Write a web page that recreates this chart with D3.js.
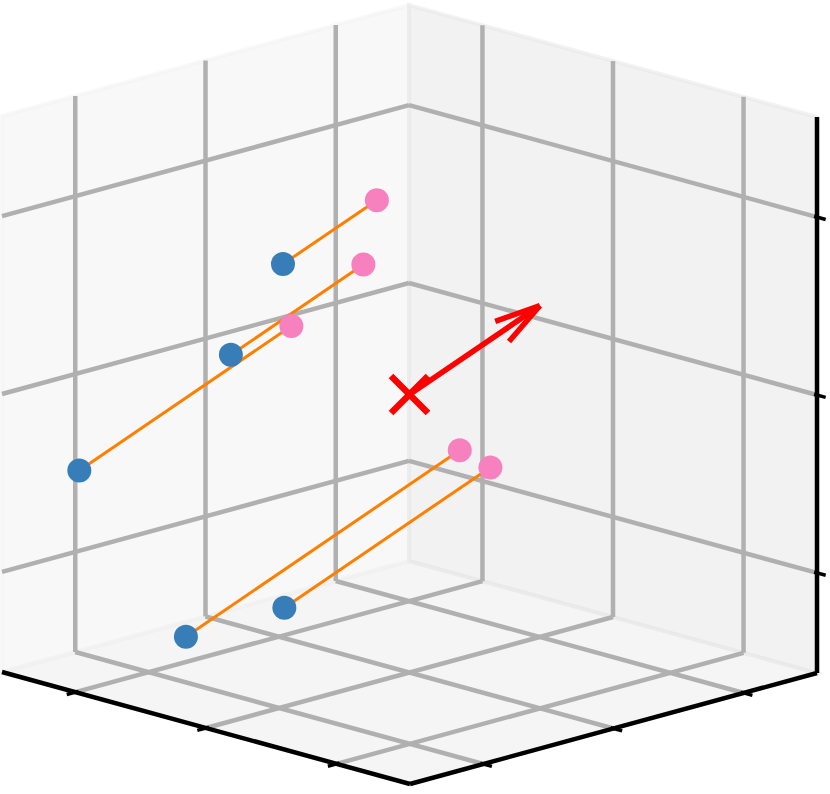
<!DOCTYPE html>
<html>
<head>
<meta charset="utf-8">
<script src="https://cdn.jsdelivr.net/npm/d3@7"></script>
<style>body{margin:0;background:#fff;}svg{display:block;}</style>
</head>
<body>
<svg id="chart" width="830" height="794"></svg>
<script>
// ---- data ----
const axisDomain = [-1.5625, 1.5625];
const xTicks = [-1, 0, 1];
const yTicks = [-1, 0, 1];
const zTicks = [-1, 0, 1];

// blue (start) points
const startX = [0.585, 0.585, 1.266, 1.057, 0.330];
const startY = [-0.385, -0.785, -1.266, -0.657, -0.630];
const startZ = [0.692, 0.262, -0.429, -1.443, -1.139];
// pink (end) points
const endX = [0.225, 0.077, 0.453, 0.007, -0.460];
const endY = [-0.025, -0.277, -0.453, 0.393, 0.160];
const endZ = [1.052, 0.770, 0.384, -0.393, -0.349];

// red cross (origin) and arrow vector
const crossPoint = [0, 0, 0];
const arrowVector = [-0.5, 0.5, 0.5];

// ---- projection (orthographic box) ----
const sx = d3.scaleLinear().domain(axisDomain).range([0, 1]);
const sy = d3.scaleLinear().domain(axisDomain).range([0, 1]);
const sz = d3.scaleLinear().domain(axisDomain).range([0, 1]);
const F = [410, 784], L = [2, 672], R = [817, 673], H = 556;
function projF(a, b, c) {
  return [F[0] + a * (L[0] - F[0]) + b * (R[0] - F[0]),
          F[1] + a * (L[1] - F[1]) + b * (R[1] - F[1]) - c * H];
}
function proj(x, y, z) { return projF(sx(x), sy(y), sz(z)); }

const svg = d3.select("#chart");
const line = d3.line();

// ---- panes ----
const panes = [
  {pts: [[0,0,0],[1,0,0],[1,1,0],[0,1,0]], col: "rgba(236,236,236,0.5)"},   // floor (z)
  {pts: [[1,0,0],[1,1,0],[1,1,1],[1,0,1]], col: "rgba(242,242,242,0.5)"},   // left (x)
  {pts: [[1,1,0],[0,1,0],[0,1,1],[1,1,1]], col: "rgba(230,230,230,0.5)"}    // right (y)
];
svg.append("g").selectAll("path").data(panes).join("path")
  .attr("d", d => line(d.pts.map(p => projF(...p))) + "Z")
  .attr("fill", d => d.col)
  .attr("stroke", d => d.col)
  .attr("stroke-width", 4)
  .attr("stroke-linejoin", "miter");

// ---- grid lines ----
const grid = [];
xTicks.forEach(t => {
  const a = sx(t);
  grid.push([projF(a,0,0), projF(a,1,0)]);  // floor
  grid.push([projF(a,1,0), projF(a,1,1)]);  // right pane vertical
});
yTicks.forEach(t => {
  const b = sy(t);
  grid.push([projF(0,b,0), projF(1,b,0)]);  // floor
  grid.push([projF(1,b,0), projF(1,b,1)]);  // left pane vertical
});
zTicks.forEach(t => {
  const c = sz(t);
  grid.push([projF(1,0,c), projF(1,1,c)]);  // left pane
  grid.push([projF(1,1,c), projF(0,1,c)]);  // right pane
});
svg.append("g").selectAll("path").data(grid).join("path")
  .attr("d", d => line(d))
  .attr("stroke", "#b0b0b0").attr("stroke-width", 4.5).attr("fill", "none");

// ---- axis lines ----
const axLines = [
  [projF(1,0,0), projF(0,0,0)],
  [projF(0,0,0), projF(0,1,0)],
  [projF(0,1,0), projF(0,1,1)]
];
svg.append("g").selectAll("path").data(axLines).join("path")
  .attr("d", d => line(d))
  .attr("stroke", "#000").attr("stroke-width", 4.5).attr("fill", "none")
  .attr("stroke-linejoin", "miter");

// ticks
function unit(p, q) { const dx = q[0]-p[0], dy = q[1]-p[1], l = Math.hypot(dx, dy); return [dx/l, dy/l]; }
const ticks = [];
xTicks.forEach(t => { const a = sx(t); const p = projF(a,0,0); const u = unit(projF(a,1,0), p); ticks.push([p, u]); });
yTicks.forEach(t => { const b = sy(t); const p = projF(0,b,0); const u = unit(projF(1,b,0), p); ticks.push([p, u]); });
zTicks.forEach(t => { const c = sz(t); const p = projF(0,1,c); const u = unit(projF(1,1,c), p); ticks.push([p, u]); });
svg.append("g").selectAll("path").data(ticks).join("path")
  .attr("d", ([p, u]) => line([[p[0] - 3*u[0], p[1] - 3*u[1]], [p[0] + 9*u[0], p[1] + 9*u[1]]]))
  .attr("stroke", "#000").attr("stroke-width", 3.5).attr("fill", "none");

// ---- data marks ----
const idx = d3.range(startX.length);
svg.append("g").selectAll("path").data(idx).join("path")
  .attr("d", i => line([proj(startX[i], startY[i], startZ[i]), proj(endX[i], endY[i], endZ[i])]))
  .attr("stroke", "#ff7f00").attr("stroke-width", 3).attr("fill", "none");

svg.append("g").selectAll("circle").data(idx).join("circle")
  .attr("cx", i => proj(startX[i], startY[i], startZ[i])[0])
  .attr("cy", i => proj(startX[i], startY[i], startZ[i])[1])
  .attr("r", 12).attr("fill", "#377eb8");

svg.append("g").selectAll("circle").data(idx).join("circle")
  .attr("cx", i => proj(endX[i], endY[i], endZ[i])[0])
  .attr("cy", i => proj(endX[i], endY[i], endZ[i])[1])
  .attr("r", 12).attr("fill", "#f781bf");

// cross marker
const cp = proj(...crossPoint);
const cs = 18.5;
svg.append("path")
  .attr("d", `M${cp[0]-cs},${cp[1]-cs}L${cp[0]+cs},${cp[1]+cs}M${cp[0]-cs},${cp[1]+cs}L${cp[0]+cs},${cp[1]-cs}`)
  .attr("stroke", "#ff0000").attr("stroke-width", 6.5).attr("fill", "none");

// arrow (quiver)
const tipP = proj(crossPoint[0] + arrowVector[0], crossPoint[1] + arrowVector[1], crossPoint[2] + arrowVector[2]);
const back = unit(tipP, cp);
const headLen = 0.3 * Math.hypot(tipP[0] - cp[0], tipP[1] - cp[1]);
const ang = 15 * Math.PI / 180;
function rot(v, t) { return [v[0]*Math.cos(t) - v[1]*Math.sin(t), v[0]*Math.sin(t) + v[1]*Math.cos(t)]; }
const h1 = rot(back, ang), h2 = rot(back, -ang);
const arrowSegs = [
  [cp, tipP],
  [tipP, [tipP[0] + h1[0]*headLen, tipP[1] + h1[1]*headLen]],
  [tipP, [tipP[0] + h2[0]*headLen, tipP[1] + h2[1]*headLen]]
];
svg.append("g").selectAll("path").data(arrowSegs).join("path")
  .attr("d", d => line(d))
  .attr("stroke", "#ff0000").attr("stroke-width", 5.5).attr("fill", "none");
</script>
</body>
</html>
